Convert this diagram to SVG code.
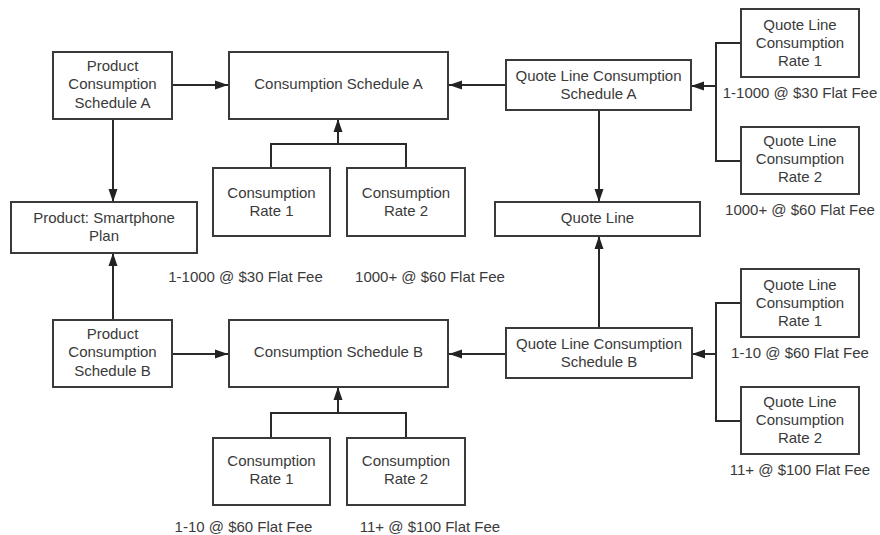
<svg xmlns="http://www.w3.org/2000/svg" width="880" height="535" viewBox="0 0 880 535">
  <defs>
    <marker id="arrow" markerUnits="userSpaceOnUse" markerWidth="13" markerHeight="10" refX="13" refY="5" orient="auto">
      <path d="M0,0.5 L13,5 L0,9.5 z" fill="#222"/>
    </marker>
    <style>
      .box { fill: #fff; stroke: #3a3a3a; stroke-width: 2; }
      .lbl { font-family: "Liberation Sans", Arial, sans-serif; font-size: 15px; fill: #3a3a3a; text-anchor: middle; }
      .wire { fill: none; stroke: #2a2a2a; stroke-width: 2; }
    </style>
  </defs>
  <rect width="880" height="535" fill="#fff"/>

  <!-- connectors -->
  <g id="connectors">
    <path class="wire" d="M172,85 H228" marker-end="url(#arrow)"/>
    <path class="wire" d="M506,85 H449" marker-end="url(#arrow)"/>
    <path class="wire" d="M113,119 V202" marker-end="url(#arrow)"/>
    <path class="wire" d="M113,320 V253" marker-end="url(#arrow)"/>
    <path class="wire" d="M271,168 V144 H406 V168"/>
    <path class="wire" d="M338,144 V119" marker-end="url(#arrow)"/>
    <path class="wire" d="M172,354 H228" marker-end="url(#arrow)"/>
    <path class="wire" d="M506,354 H449" marker-end="url(#arrow)"/>
    <path class="wire" d="M271,438 V413 H406 V438"/>
    <path class="wire" d="M338,413 V387" marker-end="url(#arrow)"/>
    <path class="wire" d="M599,110 V202" marker-end="url(#arrow)"/>
    <path class="wire" d="M599,328 V236" marker-end="url(#arrow)"/>
    <path class="wire" d="M741,43 H716 V161 H741"/>
    <path class="wire" d="M716,86 H691" marker-end="url(#arrow)"/>
    <path class="wire" d="M741,303 H716 V421 H741"/>
    <path class="wire" d="M716,354 H692" marker-end="url(#arrow)"/>
  </g>

  <!-- schedule A -->
  <g id="product-cs-a">
    <rect class="box" x="53" y="52" width="119" height="67"/>
    <text class="lbl" x="112.5" y="70.5">Product</text>
    <text class="lbl" x="112.5" y="89">Consumption</text>
    <text class="lbl" x="112.5" y="107.5">Schedule A</text>
  </g>
  <g id="cs-a">
    <rect class="box" x="229" y="52" width="219" height="67"/>
    <text class="lbl" x="338.5" y="88.5">Consumption Schedule A</text>
  </g>
  <g id="cr1-a">
    <rect class="box" x="213" y="168" width="117" height="68"/>
    <text class="lbl" x="271.5" y="197.5">Consumption</text>
    <text class="lbl" x="271.5" y="215.5">Rate 1</text>
  </g>
  <g id="cr2-a">
    <rect class="box" x="347" y="168" width="118" height="68"/>
    <text class="lbl" x="406" y="197.5">Consumption</text>
    <text class="lbl" x="406" y="215.5">Rate 2</text>
  </g>
  <text class="lbl" x="245.5" y="282">1-1000 @ $30 Flat Fee</text>
  <text class="lbl" x="430" y="282">1000+ @ $60 Flat Fee</text>

  <g id="qlcs-a">
    <rect class="box" x="506" y="60" width="185" height="50"/>
    <text class="lbl" x="598.5" y="80.5">Quote Line Consumption</text>
    <text class="lbl" x="598.5" y="98.5">Schedule A</text>
  </g>
  <g id="qlcr1-a">
    <rect class="box" x="741" y="9" width="118" height="68"/>
    <text class="lbl" x="800" y="29.5">Quote Line</text>
    <text class="lbl" x="800" y="47.5">Consumption</text>
    <text class="lbl" x="800" y="65.5">Rate 1</text>
  </g>
  <text class="lbl" x="800" y="97.5">1-1000 @ $30 Flat Fee</text>
  <g id="qlcr2-a">
    <rect class="box" x="741" y="127" width="118" height="67"/>
    <text class="lbl" x="800" y="145.5">Quote Line</text>
    <text class="lbl" x="800" y="163.5">Consumption</text>
    <text class="lbl" x="800" y="182">Rate 2</text>
  </g>
  <text class="lbl" x="800" y="214.5">1000+ @ $60 Flat Fee</text>

  <!-- shared -->
  <g id="product">
    <rect class="box" x="11" y="202" width="186" height="51"/>
    <text class="lbl" x="104" y="222.5">Product: Smartphone</text>
    <text class="lbl" x="104" y="240.5">Plan</text>
  </g>
  <g id="quote-line">
    <rect class="box" x="495" y="202" width="205" height="34"/>
    <text class="lbl" x="597.5" y="222.5">Quote Line</text>
  </g>

  <!-- schedule B -->
  <g id="product-cs-b">
    <rect class="box" x="53" y="320" width="119" height="67"/>
    <text class="lbl" x="112.5" y="338.5">Product</text>
    <text class="lbl" x="112.5" y="357">Consumption</text>
    <text class="lbl" x="112.5" y="375.5">Schedule B</text>
  </g>
  <g id="cs-b">
    <rect class="box" x="229" y="320" width="219" height="67"/>
    <text class="lbl" x="338.5" y="356.5">Consumption Schedule B</text>
  </g>
  <g id="cr1-b">
    <rect class="box" x="213" y="438" width="117" height="67"/>
    <text class="lbl" x="271.5" y="465.5">Consumption</text>
    <text class="lbl" x="271.5" y="483.5">Rate 1</text>
  </g>
  <g id="cr2-b">
    <rect class="box" x="347" y="438" width="118" height="67"/>
    <text class="lbl" x="406" y="465.5">Consumption</text>
    <text class="lbl" x="406" y="483.5">Rate 2</text>
  </g>
  <text class="lbl" x="243.5" y="532">1-10 @ $60 Flat Fee</text>
  <text class="lbl" x="430" y="532">11+ @ $100 Flat Fee</text>

  <g id="qlcs-b">
    <rect class="box" x="506" y="328" width="186" height="50"/>
    <text class="lbl" x="599" y="348.5">Quote Line Consumption</text>
    <text class="lbl" x="599" y="366.5">Schedule B</text>
  </g>
  <g id="qlcr1-b">
    <rect class="box" x="741" y="269" width="118" height="68"/>
    <text class="lbl" x="800" y="289.5">Quote Line</text>
    <text class="lbl" x="800" y="307.5">Consumption</text>
    <text class="lbl" x="800" y="325.5">Rate 1</text>
  </g>
  <text class="lbl" x="800" y="357.5">1-10 @ $60 Flat Fee</text>
  <g id="qlcr2-b">
    <rect class="box" x="741" y="387" width="118" height="67"/>
    <text class="lbl" x="800" y="406.5">Quote Line</text>
    <text class="lbl" x="800" y="424.5">Consumption</text>
    <text class="lbl" x="800" y="442.5">Rate 2</text>
  </g>
  <text class="lbl" x="800" y="474.5">11+ @ $100 Flat Fee</text>
</svg>
